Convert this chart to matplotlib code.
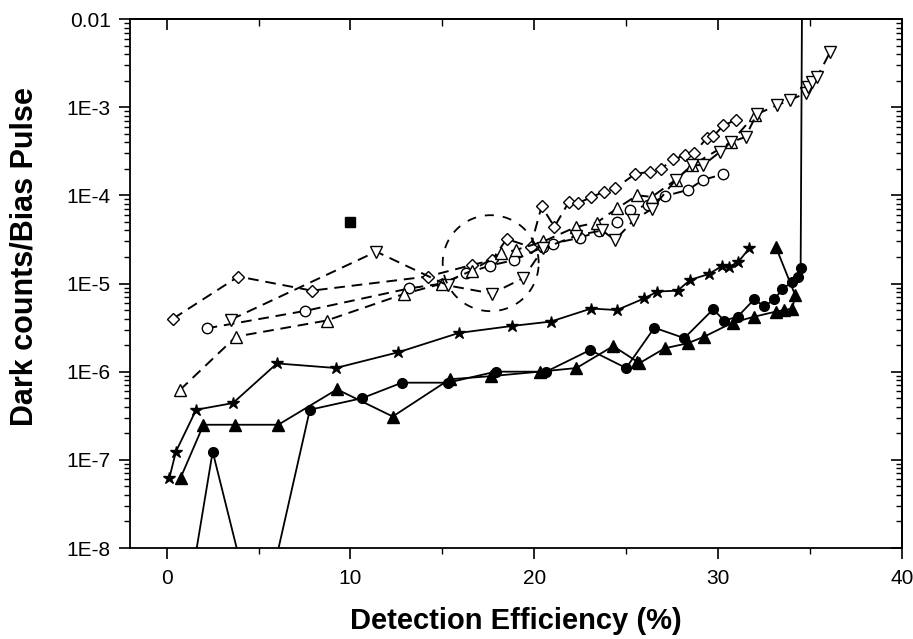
import numpy as np
import matplotlib
matplotlib.use("Agg")
import matplotlib.pyplot as plt
from matplotlib.ticker import FixedLocator, FuncFormatter, MultipleLocator, LogLocator, NullFormatter

matplotlib.rcParams.update({
    "font.family": ["Liberation Sans", "DejaVu Sans"],
    "font.size": 15,
})

# -- Data (x: detection efficiency %, y: dark counts / bias pulse)
diam_x = [0.35, 3.9, 7.9, 14.2, 16.6, 17.7, 18.5, 19.8, 20.4, 21.1, 21.9, 22.4, 23.1,
          23.8, 24.4, 25.5, 26.3, 26.9, 27.55, 28.2, 28.7, 29.4, 29.75, 30.3, 31.0]
diam_y = [4.0e-6, 1.2e-5, 8.3e-6, 1.2e-5, 1.62e-5, 1.84e-5, 3.2e-5, 2.6e-5, 7.5e-5, 4.4e-5,
          8.5e-5, 8.2e-5, 9.5e-5, 1.1e-4, 1.2e-4, 1.75e-4, 1.85e-4, 2.0e-4, 2.55e-4, 2.85e-4,
          3.0e-4, 4.5e-4, 4.7e-4, 6.2e-4, 7.2e-4]

circ_x = [2.17, 7.55, 13.2, 15.0, 16.3, 17.6, 18.9, 20.5, 21.0, 22.5, 23.5, 24.5, 25.2,
          26.2, 27.1, 28.35, 29.2, 30.25]
circ_y = [3.1e-6, 4.9e-6, 8.8e-6, 1.0e-5, 1.3e-5, 1.6e-5, 1.84e-5, 2.6e-5, 2.84e-5, 3.3e-5,
          3.9e-5, 5.0e-5, 6.8e-5, 7.8e-5, 9.8e-5, 1.15e-4, 1.5e-4, 1.73e-4]

tup_x = [0.72, 3.77, 8.7, 12.9, 15.0, 16.6, 18.2, 19.0, 20.5, 22.3, 23.4, 24.5, 25.6,
         26.4, 27.7, 28.6, 30.7, 32.0]
tup_y = [6.2e-7, 2.5e-6, 3.8e-6, 7.6e-6, 1.0e-5, 1.4e-5, 2.2e-5, 2.4e-5, 3.0e-5, 4.4e-5,
         4.9e-5, 7.1e-5, 1.0e-4, 9.6e-5, 1.5e-4, 2.2e-4, 4.0e-4, 8.1e-4]

tdn_x = [3.5, 11.4, 15.3, 17.7, 19.4, 20.5, 22.3, 23.7, 24.4, 25.4, 26.4, 27.7, 28.6,
         29.2, 30.1, 30.7, 31.5, 32.1, 33.2, 33.9, 34.8, 34.9, 35.1, 35.4, 36.1]
tdn_y = [3.9e-6, 2.3e-5, 9.5e-6, 7.7e-6, 1.15e-5, 2.5e-5, 3.5e-5, 4.0e-5, 3.1e-5, 5.2e-5,
         7.0e-5, 1.5e-4, 2.2e-4, 2.2e-4, 3.1e-4, 4.0e-4, 4.6e-4, 8.3e-4, 1.05e-3, 1.2e-3,
         1.45e-3, 1.7e-3, 1.95e-3, 2.2e-3, 4.2e-3]

star_x = [0.14, 0.5, 1.6, 3.6, 6.0, 9.2, 12.6, 15.9, 18.8, 20.9, 23.1, 24.5, 26.0, 26.7,
          27.8, 28.5, 29.5, 30.2, 30.6, 31.1, 31.7]
star_y = [6.2e-8, 1.24e-7, 3.7e-7, 4.4e-7, 1.24e-6, 1.1e-6, 1.66e-6, 2.75e-6, 3.3e-6, 3.7e-6,
          5.2e-6, 5.0e-6, 6.8e-6, 8.1e-6, 8.3e-6, 1.1e-5, 1.28e-5, 1.57e-5, 1.55e-5, 1.75e-5,
          2.5e-5]

ftri_x = [0.76, 2.0, 3.7, 6.07, 9.27, 12.3, 15.4, 17.66, 20.3, 22.3, 24.3, 25.6, 25.7,
          27.1, 28.35, 29.26, 30.8, 31.97, 33.15, 33.6, 34.05, 34.2, 33.15]
ftri_y = [6.3e-8, 2.5e-7, 2.5e-7, 2.5e-7, 6.3e-7, 3.1e-7, 8.2e-7, 8.9e-7, 1.0e-6, 1.1e-6,
          1.95e-6, 1.3e-6, 1.24e-6, 1.84e-6, 2.1e-6, 2.5e-6, 3.6e-6, 4.2e-6, 4.8e-6, 5.0e-6,
          5.2e-6, 7.4e-6, 2.6e-5]

# first, third and last points lie off the plotted range
fcirc_x = [1.0, 2.5, 5.0, 7.79, 10.63, 12.8, 15.3, 17.9, 20.65, 23.04, 25.0, 26.54, 28.17,
           29.74, 30.34, 31.07, 31.97, 32.52, 33.06, 33.5, 34.05, 34.33, 34.5, 34.62]
fcirc_y = [1.6e-9, 1.24e-7, 1.0e-9, 3.7e-7, 5.0e-7, 7.5e-7, 7.5e-7, 1.0e-6, 1.0e-6, 1.76e-6,
           1.1e-6, 3.15e-6, 2.4e-6, 5.1e-6, 3.8e-6, 4.2e-6, 6.6e-6, 5.5e-6, 6.6e-6, 8.6e-6,
           1.05e-5, 1.19e-5, 1.48e-5, 1.0]

square_x = [10.0]
square_y = [5.0e-5]

circle_center = (17.63, 1.7e-5)  # dashed guide circle, radius in pixels below
circle_radius_px = 48

ytick_vals = [1e-8, 1e-7, 1e-6, 1e-5, 1e-4, 1e-3, 1e-2]
ytick_labels = ["1E-8", "1E-7", "1E-6", "1E-5", "1E-4", "1E-3", "0.01"]

# -- Figure -------------------------------------------------------------------
fig = plt.figure(figsize=(9.13, 6.39), dpi=100)
ax = fig.add_axes([130 / 913, 1 - 548 / 639, 771.7 / 913, 529 / 639])
ax.set_yscale("log")
ax.set_xlim(-2, 40)
ax.set_ylim(1e-8, 1e-2)

dash = dict(linestyle=(0, (5.5, 3.5)), linewidth=1.4, color="black")
solid = dict(linestyle="-", linewidth=1.3, color="black")

ax.plot(diam_x, diam_y, marker="D", ms=6.5, mfc="white", mec="black", mew=1.0, **dash)
ax.plot(circ_x, circ_y, marker="o", ms=7.5, mfc="white", mec="black", mew=1.0, **dash)
ax.plot(tup_x, tup_y, marker="^", ms=8.5, mfc="white", mec="black", mew=1.0, **dash)
ax.plot(tdn_x, tdn_y, marker="v", ms=8.5, mfc="white", mec="black", mew=1.0, **dash)
ax.plot(star_x, star_y, marker="*", ms=9, mfc="black", mec="black", **solid)
ax.plot(ftri_x, ftri_y, marker="^", ms=8, mfc="black", mec="black", **solid)
ax.plot(fcirc_x, fcirc_y, marker="o", ms=7, mfc="black", mec="black", **solid)
ax.plot(square_x, square_y, marker="s", ms=7.5, color="black", linestyle="none")

# dashed circle drawn in display space around a data-space centre
fig.canvas.draw()
cx, cy = ax.transData.transform(circle_center)
t = np.linspace(0, 2 * np.pi, 200)
pts = np.column_stack([cx + circle_radius_px * np.cos(t), cy + circle_radius_px * np.sin(t)])
circ_data = ax.transData.inverted().transform(pts)
ax.plot(circ_data[:, 0], circ_data[:, 1], color="black", lw=1.3, linestyle=(0, (5, 5)))

# ticks
ax.xaxis.set_major_locator(MultipleLocator(10))
ax.xaxis.set_minor_locator(MultipleLocator(5))
ax.yaxis.set_major_locator(FixedLocator(ytick_vals))
ax.yaxis.set_major_formatter(FuncFormatter(lambda v, p: ytick_labels[ytick_vals.index(v)]
                                           if v in ytick_vals else ""))
ax.yaxis.set_minor_locator(LogLocator(base=10, subs=np.arange(2, 10), numticks=50))
ax.yaxis.set_minor_formatter(NullFormatter())
ax.tick_params(which="major", direction="out", length=8, width=1.2, labelsize=15)
ax.tick_params(axis="y", which="major", pad=6)
ax.tick_params(axis="x", which="major", pad=7)
ax.tick_params(which="minor", direction="out", length=4.5, width=1.0)

secx = ax.secondary_xaxis("top")
secx.xaxis.set_major_locator(MultipleLocator(10))
secx.xaxis.set_minor_locator(MultipleLocator(5))
secx.tick_params(which="major", direction="in", length=8, width=1.2, labeltop=False)
secx.tick_params(which="minor", direction="in", length=5, width=1.0)

secy = ax.secondary_yaxis("right")
secy.yaxis.set_major_locator(FixedLocator(ytick_vals))
secy.yaxis.set_minor_locator(LogLocator(base=10, subs=np.arange(2, 10), numticks=50))
secy.tick_params(which="major", direction="in", length=8, width=1.2, labelright=False)
secy.tick_params(which="minor", direction="in", length=4.5, width=1.0, labelright=False)

for s in ax.spines.values():
    s.set_linewidth(1.3)
for s in list(secx.spines.values()) + list(secy.spines.values()):
    s.set_linewidth(1.3)

ax.set_xlabel("Detection Efficiency (%)", fontsize=21, fontweight="bold", labelpad=14)
ax.set_ylabel("Dark counts/Bias Pulse", fontsize=22, fontweight="bold")
ax.yaxis.set_label_coords(-0.117, 0.55)

fig.savefig("out.png", dpi=100)
